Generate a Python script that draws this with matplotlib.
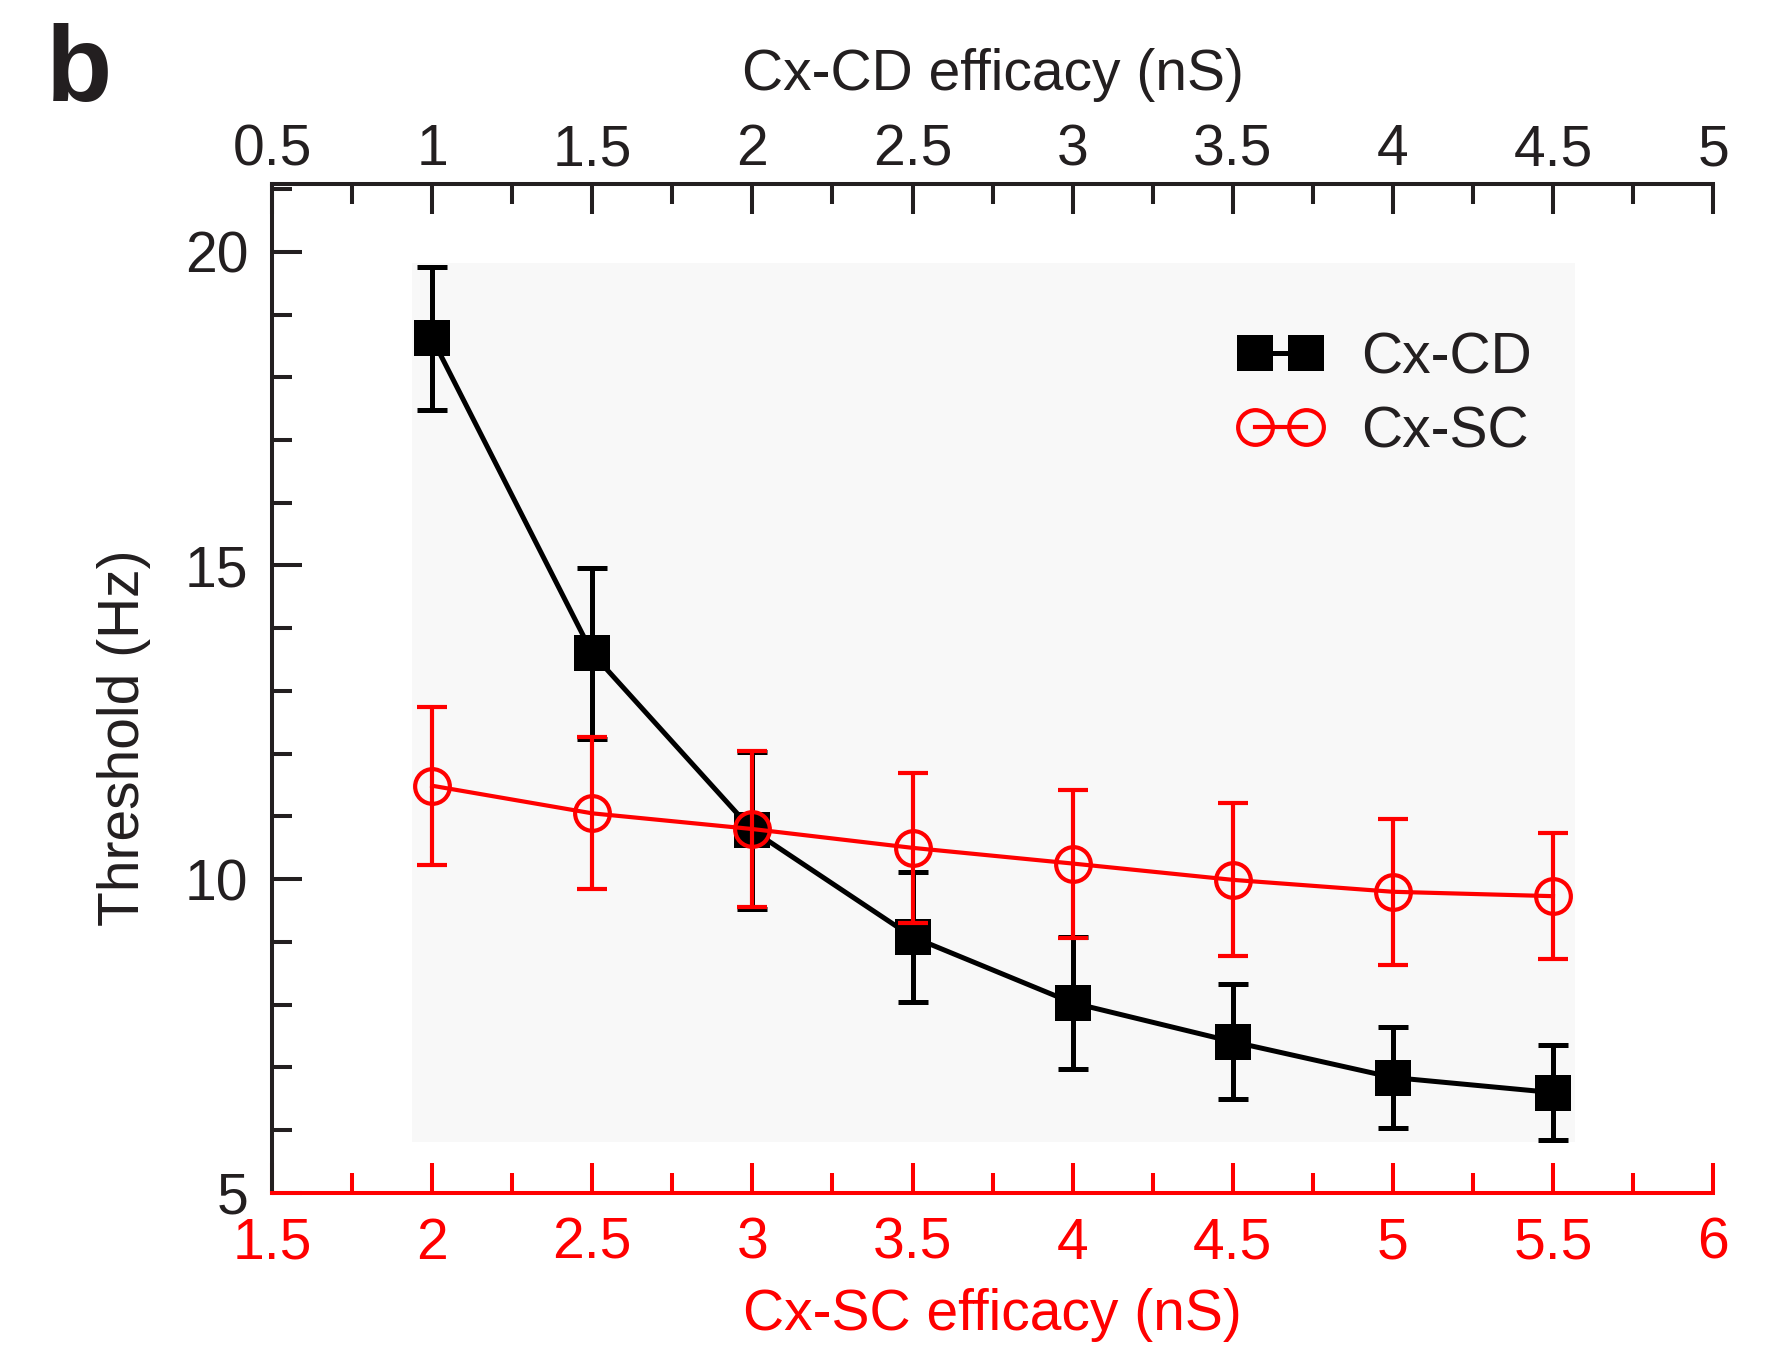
import numpy as np
import matplotlib
matplotlib.use("Agg")
import matplotlib.pyplot as plt
from matplotlib.ticker import MultipleLocator, FuncFormatter
from matplotlib.patches import Rectangle

plt.rcParams['font.family'] = ['Liberation Sans', 'DejaVu Sans']

# Data
cd_efficacy = [1.0, 1.5, 2.0, 2.5, 3.0, 3.5, 4.0, 4.5]        # top axis (nS)
sc_efficacy = [2.0, 2.5, 3.0, 3.5, 4.0, 4.5, 5.0, 5.5]        # bottom axis (nS)
cd_threshold = [18.62, 13.60, 10.78, 9.08, 8.03, 7.41, 6.84, 6.60]
cd_err = [1.14, 1.36, 1.25, 1.03, 1.05, 0.92, 0.80, 0.76]
sc_threshold = [11.49, 11.05, 10.80, 10.50, 10.25, 9.99, 9.80, 9.73]
sc_err = [1.26, 1.21, 1.24, 1.20, 1.18, 1.22, 1.16, 1.00]

dark = '#231f20'
red = '#ff0000'
fs = 41

fig = plt.figure(figsize=(17.78, 13.46), dpi=100)
ax = fig.add_axes([0.1530, 0.1137, 0.8105, 0.7496])
ax_top = ax.twiny()
# red series should sit on top of the black one
ax.set_zorder(ax_top.get_zorder() + 1)
ax.patch.set_visible(False)

# light grey panel behind the data
ax_top.add_patch(Rectangle((0.0972, 0.0505), 0.8071, 0.8712, transform=ax_top.transAxes,
                           facecolor='#f8f8f8', edgecolor='none', zorder=0))

# Cx-CD (black, top axis)
ax_top.errorbar(cd_efficacy, cd_threshold, yerr=cd_err, fmt='none', ecolor='black',
                elinewidth=3.6, capsize=10.8, capthick=3.6, zorder=2)
h_cd, = ax_top.plot(cd_efficacy, cd_threshold, color='black', lw=3.6, marker='s',
                    markersize=25.5, markeredgewidth=0, label='Cx-CD', zorder=3)

# Cx-SC (red, bottom axis)
ax.errorbar(sc_efficacy, sc_threshold, yerr=sc_err, fmt='none', ecolor=red,
            elinewidth=3.0, capsize=10.8, capthick=3.0, zorder=2)
h_sc, = ax.plot(sc_efficacy, sc_threshold, color=red, lw=3.0, marker='o',
                markersize=25, markerfacecolor='none', markeredgecolor=red,
                markeredgewidth=3.0, label='Cx-SC', zorder=3)

# limits
ax.set_xlim(1.5, 6)
ax_top.set_xlim(0.5, 5)
ax.set_ylim(5, 21.08)

fmt = FuncFormatter(lambda v, p: f"{v:g}")

# bottom axis (red)
ax.set_xticks(np.arange(1.5, 6.01, 0.5))
ax.xaxis.set_minor_locator(MultipleLocator(0.25))
ax.xaxis.set_major_formatter(fmt)
ax.tick_params(axis='x', which='both', direction='in', colors=red, width=2.9,
               top=False, bottom=True, labelsize=fs, pad=17)
ax.tick_params(axis='x', which='major', length=21.6)
ax.tick_params(axis='x', which='minor', length=14.4)

# left axis
ax.set_yticks([5, 10, 15, 20])
ax.yaxis.set_minor_locator(MultipleLocator(1))
ax.tick_params(axis='y', which='both', direction='in', colors=dark, width=2.9,
               left=True, right=False, labelsize=fs, pad=17)
ax.tick_params(axis='y', which='major', length=21.6)
ax.tick_params(axis='y', which='minor', length=14.4)

# top axis (black)
ax_top.set_xticks(np.arange(0.5, 5.01, 0.5))
ax_top.xaxis.set_minor_locator(MultipleLocator(0.25))
ax_top.xaxis.set_major_formatter(fmt)
ax_top.tick_params(axis='x', which='both', direction='in', colors=dark, width=2.9,
                   labelsize=fs, pad=5)
ax_top.tick_params(axis='x', which='major', length=21.6)
ax_top.tick_params(axis='x', which='minor', length=14.4)

# spines
for s in ['top', 'right']:
    ax.spines[s].set_visible(False)
for s in ['bottom', 'left', 'right']:
    ax_top.spines[s].set_visible(False)
ax.spines['bottom'].set_color(red)
ax.spines['left'].set_color(dark)
ax_top.spines['top'].set_color(dark)
for sp in [ax.spines['bottom'], ax.spines['left'], ax_top.spines['top']]:
    sp.set_linewidth(2.9)
    sp.set_capstyle('projecting')

# axis labels
ax.set_xlabel('Cx-SC efficacy (nS)', fontsize=fs, color=red)
ax.xaxis.set_label_coords(0.5, -0.136)
ax.xaxis.label.set_va('baseline')
ax_top.set_xlabel('Cx-CD efficacy (nS)', fontsize=fs, color=dark)
ax_top.xaxis.set_label_coords(0.5, 1.093)
ax_top.xaxis.label.set_va('baseline')
ax.set_ylabel('Threshold (Hz)', fontsize=fs, color=dark)
ax.yaxis.set_label_coords(-0.084, 0.451)

# legend
ax.legend(handles=[h_cd, h_sc], loc='upper left', bbox_to_anchor=(0.6963, 0.754),
          bbox_transform=fig.transFigure, frameon=False, fontsize=fs, numpoints=2,
          handlelength=1.49, handletextpad=0.67, labelspacing=0.35, borderpad=0,
          borderaxespad=0, labelcolor=dark)

# panel letter
fig.text(0.026, 0.925, 'b', fontsize=78, fontweight='bold', color=dark, va='baseline')

fig.savefig('out.png', dpi=100)
